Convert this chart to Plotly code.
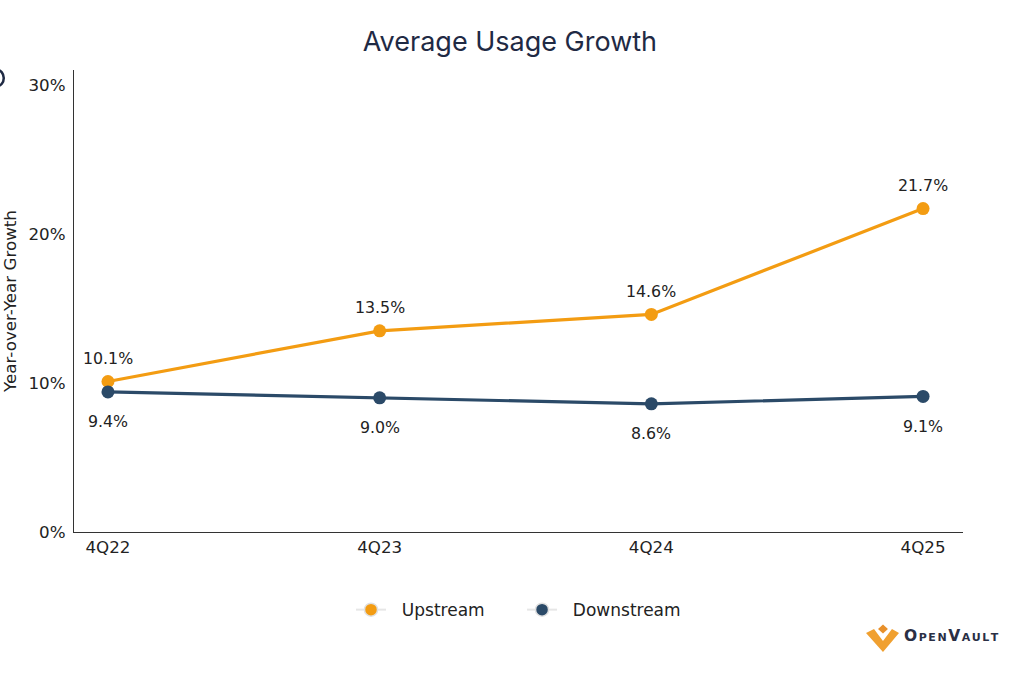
import plotly.graph_objects as go

categories = ["4Q22", "4Q23", "4Q24", "4Q25"]
upstream = [10.1, 13.5, 14.6, 21.7]
downstream = [9.4, 9.0, 8.6, 9.1]
y_ticks = [0, 10, 20, 30]
y_tick_labels = ["0%", "10%", "20%", "30%"]

ORANGE = "#F39C12"
NAVY = "#2B4A68"
xs = list(range(len(categories)))
NB = "\u00a0"

fig = go.Figure()
for name, vals, col in [("Upstream", upstream, ORANGE), ("Downstream", downstream, NAVY)]:
    fig.add_trace(go.Scatter(x=xs, y=vals, mode="lines+markers", name=name,
                             line=dict(color=col, width=3.2),
                             marker=dict(color=col, size=13),
                             showlegend=False, hoverinfo="skip"))
# legend entries
for name, col, pad in [("Upstream", ORANGE, 6), ("Downstream", NAVY, 0)]:
    fig.add_trace(go.Scatter(x=[None], y=[None], mode="lines+markers",
                             name=NB * 2 + name + NB * pad,
                             line=dict(color="#e6e6e6", width=2),
                             marker=dict(color=col, size=13, line=dict(color="#e0e0e0", width=1.5)),
                             showlegend=True))

for x, v in zip(xs, upstream):
    fig.add_annotation(x=x, y=v, text=f"{v:.1f}%", showarrow=False, yshift=23,
                       font=dict(family="DejaVu Sans", size=15.8, color="#222222"))
for x, v in zip(xs, downstream):
    fig.add_annotation(x=x, y=v, text=f"{v:.1f}%", showarrow=False, yshift=-30,
                       font=dict(family="DejaVu Sans", size=15.8, color="#222222"))

# logo
fig.add_shape(type="path", xref="paper", yref="paper",
              path="M 0.8909 -0.2186 L 0.8999 -0.2100 L 0.9100 -0.2359 L 0.9201 -0.2100 "
                   "L 0.9280 -0.2186 L 0.9100 -0.2597 Z",
              fillcolor="#F0A030", line=dict(width=0))
fig.add_shape(type="path", xref="paper", yref="paper",
              path="M 0.9044 -0.2100 L 0.9100 -0.2002 L 0.9156 -0.2100 L 0.9100 -0.2197 Z",
              fillcolor="#E8902A", line=dict(width=0))
fig.add_annotation(xref="paper", yref="paper", x=0.9314, y=-0.2251, xanchor="left", yanchor="middle",
                   text="\u200a".join("OpenVault"), showarrow=False,
                   font=dict(family="DejaVu Sans", size=15.5, color="#2A2F45", variant="small-caps",
                             weight=600))
# partial icon at top-left
fig.add_shape(type="circle", xref="paper", yref="paper",
              x0=-0.094, x1=-0.079, y0=0.965, y1=1.0, line=dict(color="#1F2A44", width=2.5))

fig.update_layout(
    width=1024, height=674,
    paper_bgcolor="white", plot_bgcolor="white",
    margin=dict(l=74, r=61, t=70, b=142, autoexpand=False),
    title=dict(text="Average Usage Growth", x=0.498, xref="container", y=0.938, yref="container",
               xanchor="center", yanchor="middle",
               font=dict(family="Inter", size=27, color="#1F2A44")),
    font=dict(family="DejaVu Sans", color="#222222"),
    xaxis=dict(range=[-0.125, 3.147], tickvals=xs, ticktext=categories, showgrid=False,
               zeroline=False, showline=True, linecolor="#333333", linewidth=1.3, automargin=False,
               ticks="", tickfont=dict(size=16.7, color="#222222"), fixedrange=True),
    yaxis=dict(range=[0, 31], tickvals=y_ticks, ticktext=y_tick_labels, showgrid=False,
               zeroline=False, showline=True, linecolor="#333333", linewidth=1.3, automargin=False,
               ticks="", ticklabelstandoff=4, tickfont=dict(size=16.7, color="#222222"),
               title=dict(text="Year-over-Year Growth", standoff=10,
                          font=dict(size=16.7, color="#222222"))),
    legend=dict(orientation="h", x=0.5, xanchor="center", y=-0.169, yanchor="middle",
                font=dict(size=17, color="#222222"), traceorder="normal",
                bgcolor="rgba(0,0,0,0)"),
    showlegend=True,
)
fig.write_html("out.html", post_script="document.body.style.margin='0';",
               config={"displayModeBar": False})
